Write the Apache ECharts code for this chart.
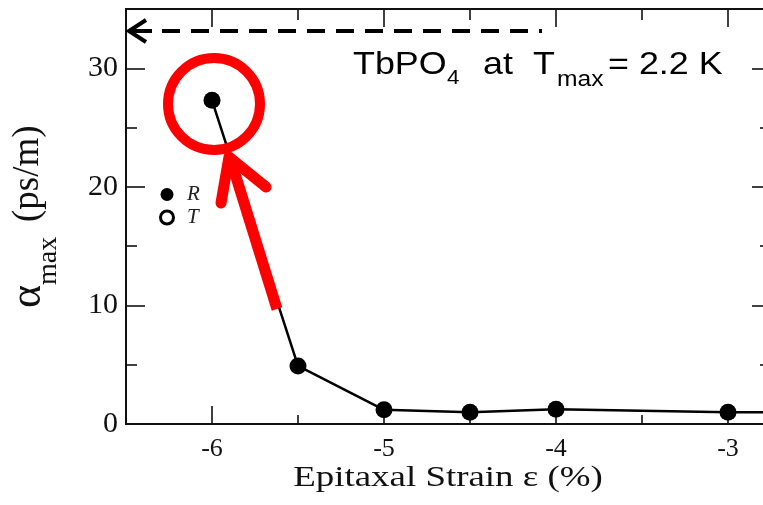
<!DOCTYPE html>
<html>
<head>
<meta charset="utf-8">
<script src="https://cdn.jsdelivr.net/npm/echarts@6/dist/echarts.min.js"></script>
<style>
html,body{margin:0;padding:0;background:#fff;}
#chart{width:763px;height:505px;}
</style>
</head>
<body>
<div id="chart"></div>
<script>
// ---- data ----
const strain = [-6, -5.5, -5, -4.5, -4, -3, -2.5];   // epitaxial strain (%)
const alphaR = [27.3, 4.9, 1.2, 1.0, 1.25, 1.0, 1.0]; // alpha_max (ps/m), series R
const alphaT = [];                                    // series T (no visible points)
const xMajorTicks = [-6, -5, -4, -3];
const xMinorTicks = [-5.5, -4.5, -3.5];
const yMajorTicks = [0, 10, 20, 30];
const yMinorTicks = [5, 15, 25];

const serif = 'Liberation Serif';
const sans = 'Liberation Sans';
const X_MIN = -6.5, X_MAX = -2.75, Y_MIN = 0, Y_MAX = 35;

function xAxisDef(pos, ticks, len, withLabels) {
  return {
    type: 'value', position: pos, min: X_MIN, max: X_MAX,
    axisLine: { show: withLabels !== null, onZero: false, lineStyle: { color: '#111', width: 2 } },
    axisTick: { show: true, inside: true, length: len, customValues: ticks, lineStyle: { color: '#111', width: 1.6 } },
    axisLabel: withLabels ? {
      show: true, customValues: ticks, margin: 12, fontSize: 26, fontFamily: serif, color: '#111',
      formatter: v => String(v)
    } : { show: false },
    splitLine: { show: false }
  };
}
function yAxisDef(pos, ticks, len, withLabels) {
  return {
    type: 'value', position: pos, min: Y_MIN, max: Y_MAX,
    axisLine: { show: withLabels !== null, onZero: false, lineStyle: { color: '#111', width: 2 } },
    axisTick: { show: true, inside: true, length: len, customValues: ticks, lineStyle: { color: '#111', width: 1.6 } },
    axisLabel: withLabels ? {
      show: true, customValues: ticks, margin: 8, fontSize: 30, fontFamily: serif, color: '#111'
    } : { show: false },
    splitLine: { show: false }
  };
}

const chart = echarts.init(document.getElementById('chart'), null, { renderer: 'canvas' });
chart.setOption({
  animation: false,
  backgroundColor: '#fff',
  grid: { left: 126, width: 645, top: 9, bottom: 81, containLabel: false, outerBoundsMode: 'none' },
  xAxis: [
    xAxisDef('bottom', xMajorTicks, 18, true),
    xAxisDef('bottom', xMinorTicks, 9, false),
    xAxisDef('top', xMajorTicks, 18, false),
    xAxisDef('top', xMinorTicks, 11, false)
  ],
  yAxis: [
    yAxisDef('left', yMajorTicks, 19, true),
    yAxisDef('left', yMinorTicks, 11, false),
    yAxisDef('right', yMajorTicks, 19, false),
    yAxisDef('right', yMinorTicks, 11, false)
  ],
  legend: {
    orient: 'vertical', left: 154, top: 179, itemWidth: 26, itemHeight: 13, itemGap: 2,
    textStyle: { fontFamily: serif, fontStyle: 'italic', fontSize: 21, color: '#222', padding: [0, 0, 0, 2] },
    data: [
      { name: 'R', icon: 'circle', itemStyle: { color: '#000' } },
      { name: 'T', icon: 'circle', itemStyle: { color: '#fff', borderColor: '#000', borderWidth: 3 } }
    ]
  },
  series: [
    {
      name: 'R', type: 'line', xAxisIndex: 0, yAxisIndex: 0,
      data: strain.map((x, i) => [x, alphaR[i]]),
      symbol: 'circle', symbolSize: 17, clip: true,
      lineStyle: { color: '#000', width: 2.5 },
      itemStyle: { color: '#000' }, z: 3
    },
    {
      name: 'T', type: 'line', xAxisIndex: 0, yAxisIndex: 0,
      data: alphaT, symbol: 'circle', symbolSize: 12,
      lineStyle: { color: '#000', width: 2 }, itemStyle: { color: '#fff', borderColor: '#000', borderWidth: 3 }
    }
  ],
  graphic: [
    // black dashed arrow (pointing to left axis)
    { type: 'line', shape: { x1: 129, y1: 31, x2: 152, y2: 31 }, style: { stroke: '#000', lineWidth: 4 }, z: 50 },
    { type: 'line', shape: { x1: 162, y1: 31, x2: 542, y2: 31 }, style: { stroke: '#000', lineWidth: 4, lineDash: [18, 11] }, z: 50 },
    { type: 'polyline', shape: { points: [[146, 20], [129, 31], [146, 42]] }, style: { stroke: '#000', lineWidth: 4, fill: 'none' }, z: 50 },
    // red circle and arrow
    { type: 'circle', shape: { cx: 214, cy: 104, r: 46 }, style: { fill: 'none', stroke: '#ff0000', lineWidth: 10 }, z: 60 },
    { type: 'line', shape: { x1: 277, y1: 309, x2: 232, y2: 164 }, style: { stroke: '#ff0000', lineWidth: 11, lineCap: 'butt' }, z: 60 },
    { type: 'polyline', shape: { points: [[221, 203], [229, 157], [266, 187]] }, style: { stroke: '#ff0000', lineWidth: 11, lineCap: 'round', lineJoin: 'round', fill: 'none' }, z: 60 },
    // annotation text: TbPO4 at Tmax = 2.2 K
    { type: 'text', x: 353, y: 65, scaleX: 1.12, z: 55, style: { text: 'TbPO', fontFamily: sans, fontSize: 32, fill: '#000', align: 'left', verticalAlign: 'middle' } },
    { type: 'text', x: 447, y: 78, scaleX: 1.12, z: 55, style: { text: '4', fontFamily: sans, fontSize: 20, fill: '#000', align: 'left', verticalAlign: 'middle' } },
    { type: 'text', x: 483, y: 65, scaleX: 1.12, z: 55, style: { text: 'at', fontFamily: sans, fontSize: 32, fill: '#000', align: 'left', verticalAlign: 'middle' } },
    { type: 'text', x: 533, y: 65, scaleX: 1.12, z: 55, style: { text: 'T', fontFamily: sans, fontSize: 32, fill: '#000', align: 'left', verticalAlign: 'middle' } },
    { type: 'text', x: 557, y: 79.5, scaleX: 1.12, z: 55, style: { text: 'max', fontFamily: sans, fontSize: 22, fill: '#000', align: 'left', verticalAlign: 'middle' } },
    { type: 'text', x: 608, y: 65, scaleX: 1.12, z: 55, style: { text: '= 2.2 K', fontFamily: sans, fontSize: 32, fill: '#000', align: 'left', verticalAlign: 'middle' } },
    // x axis title
    { type: 'text', x: 448, y: 478, scaleX: 1.23, z: 55, style: { text: 'Epitaxal Strain ε (%)', fontFamily: serif, fontSize: 30, fill: '#111', align: 'center', verticalAlign: 'middle' } },
    // y axis title: alpha_max (ps/m), rotated
    { type: 'text', x: 28, y: 308, rotation: Math.PI / 2, z: 55, style: { text: 'α', fontFamily: serif, fontSize: 44, fill: '#111', align: 'left', verticalAlign: 'middle' } },
    { type: 'text', x: 48.5, y: 285, rotation: Math.PI / 2, z: 55, style: { text: 'max', fontFamily: serif, fontSize: 28, fill: '#111', align: 'left', verticalAlign: 'middle' } },
    { type: 'text', x: 28.5, y: 222, rotation: Math.PI / 2, z: 55, style: { text: '(ps/m)', fontFamily: serif, fontSize: 37, fill: '#111', align: 'left', verticalAlign: 'middle' } }
  ]
});
</script>
</body>
</html>
